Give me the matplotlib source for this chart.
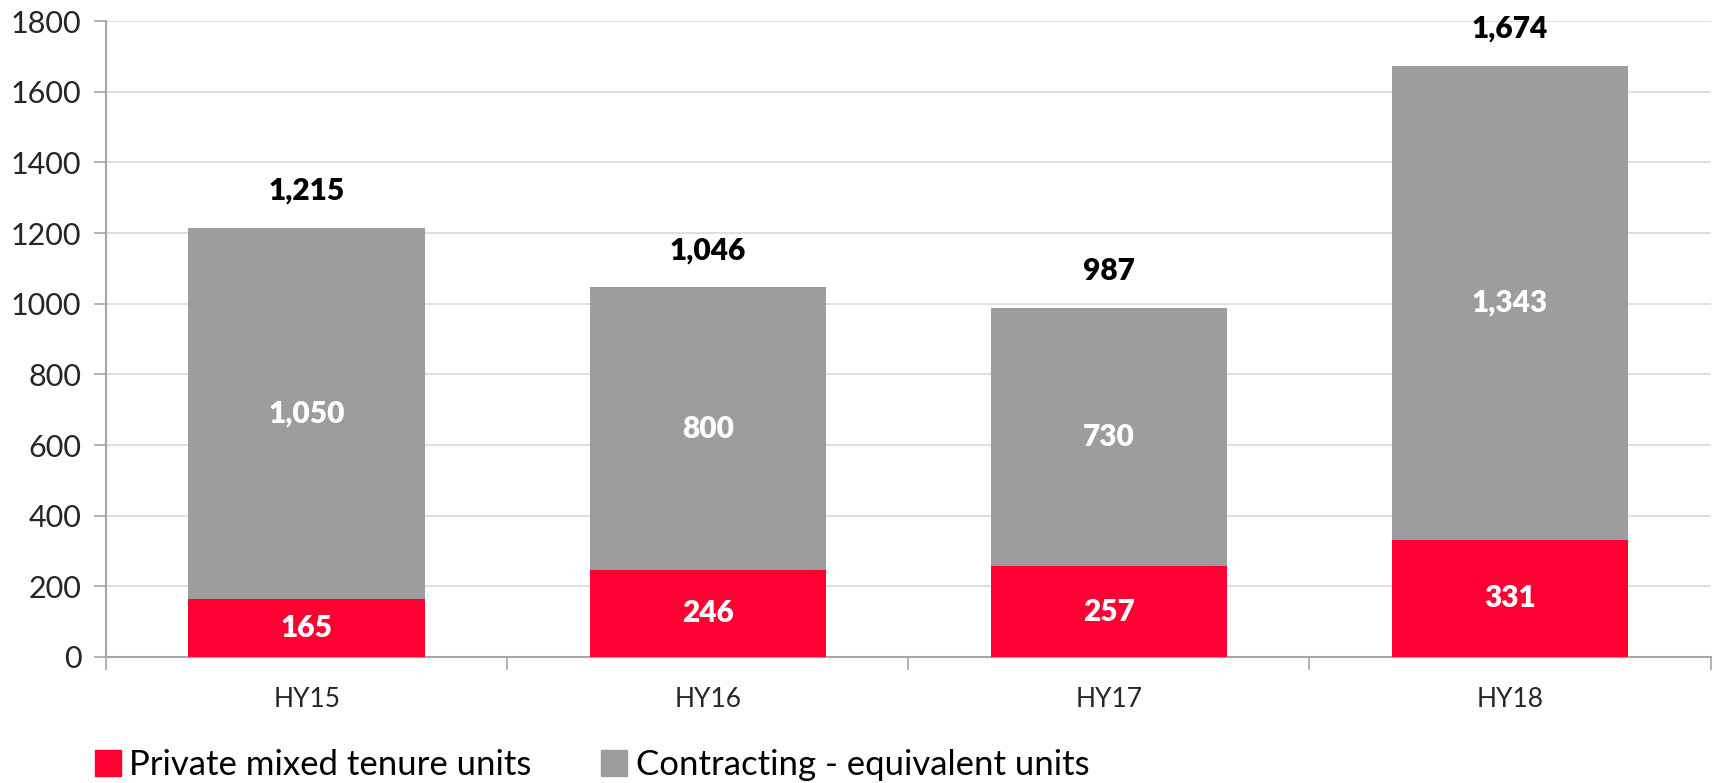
#!/usr/bin/env python3
# Stacked bar chart: private mixed tenure vs contracting-equivalent units

import matplotlib
matplotlib.use("Agg")
import matplotlib.pyplot as plt
from matplotlib.patches import Patch
import numpy as np

periods = ["HY15", "HY16", "HY17", "HY18"]
private_units = [165, 246, 257, 331]
contracting_units = [1050, 800, 730, 1343]
totals = [1215, 1046, 987, 1674]

RED = "#FF0033"
GREY = "#9D9D9E"
AXIS = "#A6A6A6"
GRID = "#D9D9D9"

plt.rcParams["font.family"] = ["Lato", "DejaVu Sans"]

fig = plt.figure(figsize=(17.14, 7.83), dpi=100)
ax = fig.add_axes([0.062, 0.161, 0.936, 0.812])

x = np.arange(len(periods))
width = 0.59
ax.bar(x, private_units, width, color=RED, zorder=3)
ax.bar(x, contracting_units, width, bottom=private_units, color=GREY, zorder=3)

for i in range(len(periods)):
    ax.text(x[i], private_units[i] / 2, f"{private_units[i]:,}", ha="center", va="center",
            color="white", fontsize=21.5, fontweight="heavy", zorder=4)
    ax.text(x[i], private_units[i] + contracting_units[i] / 2, f"{contracting_units[i]:,}",
            ha="center", va="center", color="white", fontsize=21.5, fontweight="heavy", zorder=4)
    ax.text(x[i], totals[i] + 105, f"{totals[i]:,}", ha="center", va="center",
            color="black", fontsize=21.5, fontweight="heavy", zorder=4)

ax.set_xlim(-0.5, len(periods) - 0.5)
ax.set_ylim(0, 1800)
ax.set_yticks(np.arange(0, 1801, 200))
ax.yaxis.grid(True, color=GRID, linewidth=1.2, zorder=0)

ax.set_xticks(x)
ax.set_xticklabels(periods)
ax.set_xticks(np.arange(-0.5, len(periods), 1.0), minor=True)
ax.tick_params(axis="x", which="major", length=0, pad=22, labelsize=19, labelcolor="#262626")
ax.tick_params(axis="x", which="minor", length=9, width=1.2, color=AXIS)
ax.tick_params(axis="y", length=9, width=1.2, color=AXIS, pad=9, labelsize=22, labelcolor="#262626")

for side in ["top", "right"]:
    ax.spines[side].set_visible(False)
for side in ["left", "bottom"]:
    ax.spines[side].set_color(AXIS)
    ax.spines[side].set_linewidth(1.5)

handles = [Patch(color=RED, label="Private mixed tenure units"),
           Patch(color=GREY, label="Contracting - equivalent units")]
fig.legend(handles=handles, loc="center left", bbox_to_anchor=(0.037, 0.023), ncol=2,
           frameon=False, fontsize=25, handlelength=0.75, handleheight=0.75,
           handletextpad=0.25, columnspacing=2.0)

fig.savefig("out.png", dpi=100)
